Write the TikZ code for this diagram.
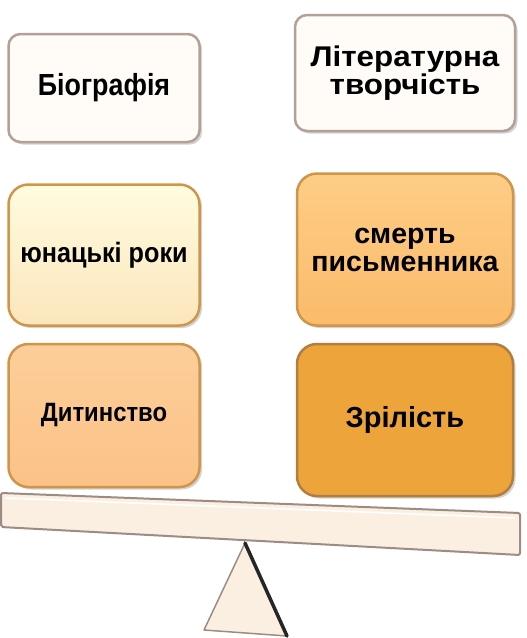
\documentclass[tikz,border=0pt]{standalone}
\usepackage{fontspec}
\setmainfont{Liberation Sans}
\usetikzlibrary{positioning,shadows,calc}
\definecolor{paleedge}{HTML}{B3A198}
\definecolor{palefill}{HTML}{FFFBF6}
\definecolor{yelltop}{HTML}{FFFCDF}
\definecolor{yellbot}{HTML}{FBE6BC}
\definecolor{peachtop}{HTML}{FDCE9A}
\definecolor{peachbot}{HTML}{FBC287}
\definecolor{ambertop}{HTML}{FDCD86}
\definecolor{amberbot}{HTML}{FBBB6A}
\definecolor{ochre}{HTML}{EDA43B}
\definecolor{goldedge}{HTML}{CF9548}
\definecolor{beamfill}{HTML}{FBEFE2}
\definecolor{beamedge}{HTML}{9C8C84}
\newcommand{\fsz}[3]{\bfseries\fontsize{#1}{#2}\selectfont\addfontfeatures{FakeStretch=#3}}

\begin{document}
\begin{tikzpicture}[x=1pt,y=-1pt,node distance=16pt]
  \useasboundingbox (0,0) rectangle (527,638);
  \tikzstyle{b}=[draw=goldedge,rounded corners=20pt,line width=2.5pt,align=center,minimum width=191pt,minimum height=141pt,
    drop shadow={shadow xshift=2.5pt,shadow yshift=-2.5pt,opacity=.35}]
  \tikzstyle{wb}=[b,draw=paleedge,fill=palefill,rounded corners=12pt,minimum height=108pt]
  \node[wb,font=\fsz{30.5}{30}{0.88}] (bio) at (104,88) {Біографія};
  \node[wb,font=\fsz{28.5}{26}{1.1},minimum width=220pt,minimum height=116pt] (lit) at (405,73) {Літературна\\творчість};
  \node[b,font=\fsz{28}{28}{0.9},below=40pt of bio,top color=yelltop,bottom color=yellbot] (youth) {юнацькі роки};
  \node[b,font=\fsz{26.5}{28}{0.9},below=of youth,top color=peachtop,bottom color=peachbot,minimum height=143pt] (child) {Дитинство};
  \node[b,font=\fsz{28.5}{28}{1.0},below=40pt of lit,minimum width=216pt,minimum height=152pt,top color=ambertop,bottom color=amberbot] (death) {смерть\\письменника};
  \node[b,font=\fsz{29}{30}{1.0},below=of death,minimum width=216pt,minimum height=152pt,fill=ochre,draw=goldedge!85!black] (mature) {Зрілість};
  % the scales
  \coordinate (bl1) at (1,493);
  \coordinate (bl2) at (520,513);
  \coordinate (bl3) at (520,555);
  \coordinate (bl4) at (1,527);
  \draw[fill=beamfill,draw=beamedge,line width=2pt,rounded corners=2pt] (bl1) -- (bl2) -- (bl3) -- (bl4) -- cycle;
  \draw[white,line width=1.5pt] ($(bl1)+(5,5)$) -- ($(bl2)+(-5,5)$);
  \coordinate (tip) at (245,543);
  \coordinate (tl) at (204,630);
  \coordinate (tr) at (287,636);
  \draw[fill=beamfill,draw=beamedge,line width=1.5pt,line join=round] (tip) -- (tl) -- (tr) -- cycle;
  \draw[black!85,line width=3.5pt,line cap=round] (tip) -- (tr);
\end{tikzpicture}
\end{document}
